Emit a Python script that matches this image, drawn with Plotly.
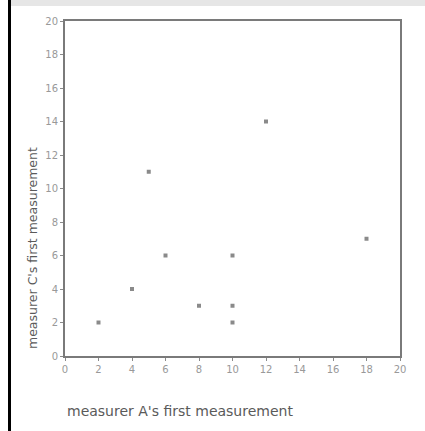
import plotly.graph_objects as go

x_vals = [2, 4, 6, 5, 8, 10, 10, 10, 12, 18]
y_vals = [2, 4, 6, 11, 3, 6, 3, 2, 14, 7]
tick_vals = [0, 2, 4, 6, 8, 10, 12, 14, 16, 18, 20]
x_title = "measurer A's first measurement"
y_title = "measurer C's first measurement"

L, R, T, B = 65, 25, 21, 75
W, H = 425, 431
pw = W - L - R
ph = H - T - B

def px(xpix):
    return (xpix - L) / pw

def py(ypix):
    return 1 - (ypix - T) / ph

fig = go.Figure()
fig.add_trace(go.Scatter(
    x=x_vals, y=y_vals, mode="markers",
    marker=dict(symbol="square", size=4, color="#8a8a8a", line=dict(width=0)),
    showlegend=False, cliponaxis=False,
))

axis_common = dict(
    range=[0, 20], tickmode="array", tickvals=tick_vals,
    ticktext=[str(v) for v in tick_vals],
    showgrid=False, zeroline=False,
    showline=True, linecolor="#7a7a7a", linewidth=2, mirror=True,
    ticks="outside", ticklen=3, tickwidth=1, tickcolor="#8a8a8a",
    tickfont=dict(family="DejaVu Sans", size=10, color="#999999"),
    fixedrange=True,
)

fig.update_layout(
    width=W, height=H,
    margin=dict(l=L, r=R, t=T, b=B),
    paper_bgcolor="white", plot_bgcolor="white",
    xaxis=dict(**axis_common),
    yaxis=dict(**axis_common),
    shapes=[
        dict(type="rect", xref="paper", yref="paper",
             x0=px(11), x1=px(W), y0=py(6), y1=py(0),
             fillcolor="#e6e6e6", line=dict(width=0), layer="below"),
        dict(type="rect", xref="paper", yref="paper",
             x0=px(8), x1=px(11), y0=py(H), y1=py(0),
             fillcolor="#000000", line=dict(width=0)),
    ],
    annotations=[
        dict(text=x_title, xref="paper", yref="paper",
             x=px(65), y=py(411), xanchor="left", yanchor="middle",
             showarrow=False,
             font=dict(family="DejaVu Sans", size=14, color="#5a5a5a")),
        dict(text=y_title, xref="paper", yref="paper",
             x=px(32), y=py(248), xanchor="center", yanchor="middle",
             textangle=-90, showarrow=False,
             font=dict(family="DejaVu Sans", size=12.5, color="#5a5a5a")),
    ],
)

fig.write_html("out.html")
